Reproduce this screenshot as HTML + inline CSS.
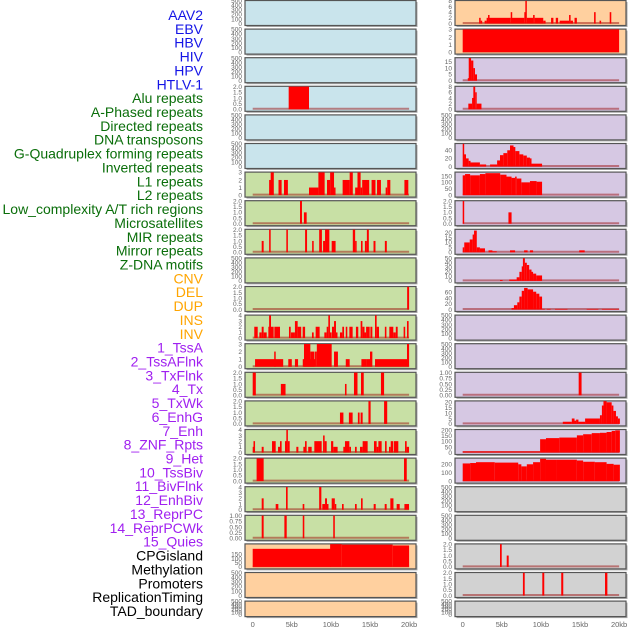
<!DOCTYPE html>
<html><head><meta charset="utf-8"><style>
body{margin:0;background:#fff;width:630px;height:630px;overflow:hidden;font-family:"Liberation Sans",sans-serif}
svg{display:block}
</style></head><body>
<svg id="chart" width="630" height="630" xmlns="http://www.w3.org/2000/svg"></svg>
<script>
const labels=["AAV2","EBV","HBV","HIV","HPV","HTLV-1","Alu repeats","A-Phased repeats","Directed repeats","DNA transposons","G-Quadruplex forming repeats","Inverted repeats","L1 repeats","L2 repeats","Low_complexity A/T rich regions","Microsatellites","MIR repeats","Mirror repeats","Z-DNA motifs","CNV","DEL","DUP","INS","INV","1_TssA","2_TssAFlnk","3_TxFlnk","4_Tx","5_TxWk","6_EnhG","7_Enh","8_ZNF_Rpts","9_Het","10_TssBiv","11_BivFlnk","12_EnhBiv","13_ReprPC","14_ReprPCWk","15_Quies","CPGisland","Methylation","Promoters","ReplicationTiming","TAD_boundary"];
const labelGroups=[0,0,0,0,0,0,1,1,1,1,1,1,1,1,1,1,1,1,1,2,2,2,2,2,3,3,3,3,3,3,3,3,3,3,3,3,3,3,3,4,4,4,4,4];
const leftBg=["b","b","b","b","b","b","g","g","g","g","g","g","g","g","g","g","g","g","g","o","o","o"];
const rightBg=["o","o","p","p","p","p","p","p","p","p","p","p","p","p","p","p","p","y","y","y","y","y"];
const leftMax=[500,500,500,2,500,500,3,2,2,500,2,4,3,2,2,4,2,4,1,270,500,500];
const rightMax=[8,3,18,8,500,56,178,2,23,50,79,500,500,1,21,205,270,500,500,2,2,500];
const leftTicks=[[0,100,200,300,400,500],[0,100,200,300,400,500],[0,100,200,300,400,500],[0,0.5,1,1.5,2],[0,100,200,300,400,500],[0,100,200,300,400,500],[0,1,2,3],[0,0.5,1,1.5,2],[0,0.5,1,1.5,2],[0,100,200,300,400,500],[0,0.5,1,1.5,2],[0,1,2,3,4],[0,1,2,3],[0,0.5,1,1.5,2],[0,0.5,1,1.5,2],[0,1,2,3,4],[0,0.5,1,1.5,2],[0,1,2,3,4],[0,0.25,0.5,0.75,1],[0,50,100,150],[0,100,200,300,400,500],[0,100,200,300,400,500]];
const rightTicks=[[0,2,4,6,8],[0,1,2,3],[0,5,10,15],[0,2,4,6,8],[0,100,200,300,400,500],[0,20,40],[0,50,100,150],[0,0.5,1,1.5,2],[0,5,10,15,20],[0,10,20,30,40,50],[0,20,40,60],[0,100,200,300,400,500],[0,100,200,300,400,500],[0,0.25,0.5,0.75,1],[0,5,10,15,20],[0,50,100,150,200],[0,100,200],[0,100,200,300,400,500],[0,100,200,300,400,500],[0,0.5,1,1.5,2],[0,0.5,1,1.5,2],[0,100,200,300,400,500]];
const leftSegs=[[],[],[],[[4.6,7.2,2]],[],[],
[[2.1,2.4,2],[2.3,2.7,3],[3.3,3.7,2],[4.0,4.5,2],[7.2,8.4,1],[8.4,9.2,3],[9.5,9.9,2],[9.9,10.4,3],[10.4,10.5,1],[11.5,12.4,2],[12.4,12.8,3],[13.1,13.4,1],[13.4,13.8,3],[13.8,14.0,1],[14.0,14.9,2],[15.2,15.7,2],[15.9,16.4,2],[17.0,17.2,1],[17.2,17.6,2],[19.4,19.9,2]],
[[6.05,6.3,2],[6.55,6.9,1]],
[[1.15,1.4,1],[2.1,2.3,2],[4.3,4.5,2],[6.7,6.95,2],[7.6,7.8,1],[8.5,8.85,2],[9.0,9.25,1],[9.25,9.8,2],[10.1,10.6,1],[12.8,13.1,2],[13.1,13.2,1],[13.85,14.05,1],[14.35,14.6,1],[14.6,14.85,2],[15.45,15.7,1],[16.9,17.15,1]],
[],
[[19.75,20.0,2]],
[[0.2,0.64,2],[0.85,1.15,1],[1.15,1.4,2],[1.4,1.79,1],[2.0,2.1,2],[2.1,2.34,4],[2.34,2.68,2],[2.77,3.49,2],[4.64,4.86,2],[4.9,5.4,1],[5.4,5.75,3],[5.75,6.2,2],[6.39,6.7,2],[7.58,7.8,1],[8.05,8.56,2],[9.16,9.46,1],[9.46,9.67,2],[9.67,9.88,4],[9.88,10.1,1],[10.14,10.4,2],[10.4,10.65,3],[10.65,10.8,1],[11.16,11.46,1],[11.46,11.68,2],[11.9,12.1,2],[12.36,12.78,2],[13.2,13.5,2],[13.8,14.02,3],[14.02,14.3,2],[14.3,14.5,1],[14.5,14.96,2],[15.05,15.3,2],[15.64,15.85,4],[15.85,16.15,2],[16.9,17.1,2],[17.47,17.98,2],[17.98,18.3,1],[18.3,18.54,2],[19.3,19.5,2],[19.73,19.94,3]],
[[0.3,3.9,1],[2.75,2.9,2],[4.55,5.0,1],[5.4,5.8,1],[6.4,7.97,1],[6.56,7.37,3],[7.37,7.9,2],[7.97,8.2,2],[8.2,10.1,3],[10.4,10.9,2],[11.9,12.4,1],[13.9,14.5,1],[14.5,15.0,1],[15.0,15.3,2],[15.64,19.8,1],[19.73,20.0,3]],
[[0.0,0.4,2],[3.6,4.2,1],[11.8,12.0,1],[12.95,13.4,2],[13.85,14.2,2],[16.4,16.8,2]],
[[11.16,11.6,1],[12.3,12.78,1],[13.45,13.67,1],[13.8,14.06,1],[14.8,15.08,2],[16.8,17.2,2]],
[[0,0.2,1],[0.1,0.3,2],[1.15,1.4,1],[2.47,2.94,2],[3.24,3.49,1],[3.49,3.7,2],[4.13,4.3,2],[4.3,4.5,4],[4.5,4.73,2],[5.58,5.84,1],[6.48,6.69,1],[6.69,6.9,2],[7.1,7.54,1],[7.88,8.82,2],[9.0,9.2,3],[9.2,9.46,2],[10.02,10.3,2],[10.3,10.86,1],[11.59,11.8,1],[11.8,12.36,2],[12.36,12.57,1],[13.08,13.3,1],[13.72,14.06,1],[14.06,14.7,2],[15.51,15.85,2],[15.85,16.07,1],[16.07,16.49,2],[16.92,17.13,2],[17.43,17.65,1],[17.65,17.98,2],[18.07,18.62,2],[19.48,19.69,2],[19.69,19.99,1]],
[[0.5,1.4,2],[19.35,19.7,2]],
[[1.15,1.4,2],[2.94,3.28,1],[4.26,4.47,4],[6.39,6.6,1],[8.5,8.78,4],[8.9,9.25,1],[9.25,9.5,2],[9.5,9.67,1],[10.1,10.5,2],[10.5,10.6,1],[11.42,11.63,1],[13.08,13.3,1],[13.85,14.06,2],[15.47,15.73,1],[16.88,17.13,1],[17.6,18.0,2],[18.41,18.8,1],[19.4,19.99,1]],
[[1.15,1.4,1],[4.05,4.35,1],[6.4,6.6,1],[10.3,10.5,1]],
[[0,10,215],[9.9,11.4,270],[11.4,17.9,265],[17.9,20,255]],
[],[]];
const rightSegs=[
[[2.1,2.3,2],[2.3,2.45,1],[2.8,3.06,1],[3.06,3.24,2],[3.24,3.4,3],[3.4,6.14,2],[6.14,6.3,4],[6.3,7.88,2],[7.88,8.01,4],[8.01,8.2,8],[8.2,9.0,2],[9.0,9.2,3],[9.2,10.3,2],[10.3,10.6,1],[11.3,11.6,2],[11.9,12.2,2],[12.4,13.6,1],[13.6,13.8,3],[13.8,14.1,1],[14.3,14.6,2],[16.8,17.0,4],[17.5,17.7,1],[18.8,19.0,4]],
[[0,20,3]],
[[0.65,0.77,2],[0.77,1.07,18],[1.07,1.36,16],[1.36,1.57,10],[1.57,1.83,5]],
[[0.72,1.2,2],[1.2,1.36,4],[1.36,1.6,8],[1.6,1.79,6],[1.79,2.4,2]],
[],
[[0,0.17,56],[0.17,0.42,30],[0.42,0.76,20],[0.76,1.0,14],[1.0,2.2,10],[2.2,3.0,5],[3.5,4.4,5],[4.4,4.77,15],[4.77,5.2,28],[5.2,5.7,33],[5.7,6.05,40],[6.05,6.5,52],[6.5,6.73,48],[6.73,7.25,38],[7.25,7.75,30],[7.75,8.2,27],[8.2,8.6,22],[8.6,8.8,20],[8.8,10.15,7]],
[[0,0.3,155],[0.3,0.95,165],[0.95,2.2,155],[2.2,2.9,165],[2.9,4.8,172],[4.8,5.6,160],[5.6,6.25,145],[6.25,6.7,135],[6.7,6.9,145],[6.9,7.5,130],[7.5,8.6,100],[8.6,9.45,110],[9.45,10.15,105]],
[[0,0.17,2],[5.85,6.25,1]],
[[0,0.2,5],[0.2,0.9,10],[0.9,1.27,13],[1.27,1.45,18],[1.45,1.8,22],[1.8,2.2,5],[2.2,2.85,4],[3.3,3.8,2],[3.8,4.35,1],[6.05,6.7,2],[7.85,8.3,2],[8.6,9.0,2],[14.9,15.6,2]],
[[4.77,5.1,2],[5.95,6.9,3],[6.9,7.25,8],[7.25,7.55,20],[7.55,7.7,32],[7.7,7.95,50],[7.95,8.2,40],[8.2,8.5,35],[8.5,8.8,25],[8.8,9.0,20],[9.0,9.4,16],[9.4,10.15,12]],
[[6.25,6.55,5],[6.55,6.98,15],[6.98,7.25,25],[7.25,7.55,45],[7.55,7.85,65],[7.85,8.3,75],[8.3,9.0,70],[9.0,9.4,62],[9.4,9.8,55],[9.8,10.15,45],[10.15,10.5,2],[10.75,11.25,2],[11.8,13.4,2],[15.85,17.35,2],[17.8,20,2]],
[],[],
[[14.83,15.2,1]],
[[12.8,13.95,2],[13.95,14.3,5],[14.3,14.5,3],[14.5,14.8,4],[14.8,15.65,2],[15.65,17.55,5],[17.55,17.8,8],[17.8,18.0,17],[18.0,18.4,21],[18.4,19.05,20],[19.05,19.27,17],[19.27,19.6,12],[19.6,19.85,7],[19.85,20.1,5]],
[[0,9.9,10],[9.9,10.65,120],[10.65,12.35,130],[12.35,14.6,135],[14.6,15.4,155],[15.4,16.5,165],[16.5,17.55,175],[17.55,18.4,178],[18.4,19.05,185],[19.05,19.5,195],[19.5,20.1,200]],
[[0,0.95,210],[0.95,1.7,215],[1.7,4.1,225],[4.1,7.1,220],[7.1,7.5,200],[7.5,8.2,175],[8.2,9.0,200],[9.0,9.9,225],[9.9,10.65,265],[10.65,12,255],[12,14.6,255],[14.6,15.4,245],[15.4,16.9,230],[16.9,18.4,225],[18.4,19.3,205],[19.3,20.1,195]],
[],[],
[[4.77,4.99,2],[5.63,5.88,1]],
[[7.7,7.93,2],[10.18,10.43,2],[12.6,12.86,2],[18.2,18.5,2]],
[]];
const xTickVals=[0,5,10,15,20];
const xTickText=["0","5kb","10kb","15kb","20kb"];

const NS="http://www.w3.org/2000/svg";
const svg=document.getElementById("chart");
const BG={b:"#c9e4ec",g:"#c8e0a5",o:"#ffd09f",p:"#d6c8e3",y:"#d2d2d2"};
const LCOL=["#1414e6","#0a6e0a","#ffa500","#a020f0","#000"];
function mk(t,a,p){const e=document.createElementNS(NS,t);for(const k in a)e.setAttribute(k,a[k]);(p||svg).appendChild(e);return e;}
function rowTop(k){return k*28.6+0.5;}
function rowH(k){return k===21?15.5:25;}
function xScale(side,kb){return (side===0?252.7:462.7)+kb*7.82;}
function yScale(k,v,max){const t=rowTop(k),z=t+rowH(k)-2;return z-(v/max)*(z-t-0.3);}
function fmt(v,ticks){const mx=ticks[ticks.length-1];if(mx===1)return v.toFixed(2);if(mx===2)return v.toFixed(1);return String(v);}

labels.forEach((s,i)=>{
  const t=mk("text",{x:203,y:15+i*13.86+5,"text-anchor":"end","font-size":"14",fill:LCOL[labelGroups[i]],"font-family":"Liberation Sans, sans-serif"});
  t.textContent=s;
  
  
});

function panel(side,k){
  const bg=side===0?leftBg[k]:rightBg[k];
  const max=side===0?leftMax[k]:rightMax[k];
  const ticks=side===0?leftTicks[k]:rightTicks[k];
  const segs=side===0?leftSegs[k]:rightSegs[k];
  const x0=side===0?245:455, t=rowTop(k), h=rowH(k);
  const g=mk("g",{});
  
  
  mk("rect",{x:x0+1.5,y:t+1.5,width:171,height:h,fill:"#aaa"},g);
  mk("rect",{x:x0,y:t,width:171,height:h,fill:BG[bg],stroke:"#555","stroke-width":1.2},g);
  if(segs.length){
    mk("line",{x1:xScale(side,0),x2:xScale(side,20),y1:yScale(k,0,max)-0.5,y2:yScale(k,0,max)-0.5,stroke:"rgba(150,0,0,0.45)","stroke-width":2},g);
  }
  segs.forEach(s=>{
    const xa=xScale(side,s[0]),xb=xScale(side,s[1]),ya=yScale(k,s[2],max),yb=yScale(k,0,max);
    const r=mk("rect",{x:xa,y:ya,width:Math.max(1.5,xb-xa),height:yb-ya,fill:"#ff0000"},g);
    
    
  });
  ticks.forEach(v=>{
    const tx=mk("text",{x:x0-3,y:yScale(k,v,max)+2.3,"text-anchor":"end","font-size":"6.5",fill:"#666"},g);
    tx.textContent=fmt(v,ticks);
    
    
  });
}
for(let k=0;k<22;k++){panel(0,k);panel(1,k);}
[0,1].forEach(side=>{
  xTickVals.forEach((v,i)=>{
    const t=mk("text",{x:xScale(side,v),y:627,"text-anchor":"middle","font-size":"7.5",fill:"#666"});
    t.textContent=xTickText[i];
    
    
  });
});
</script>
</body></html>
